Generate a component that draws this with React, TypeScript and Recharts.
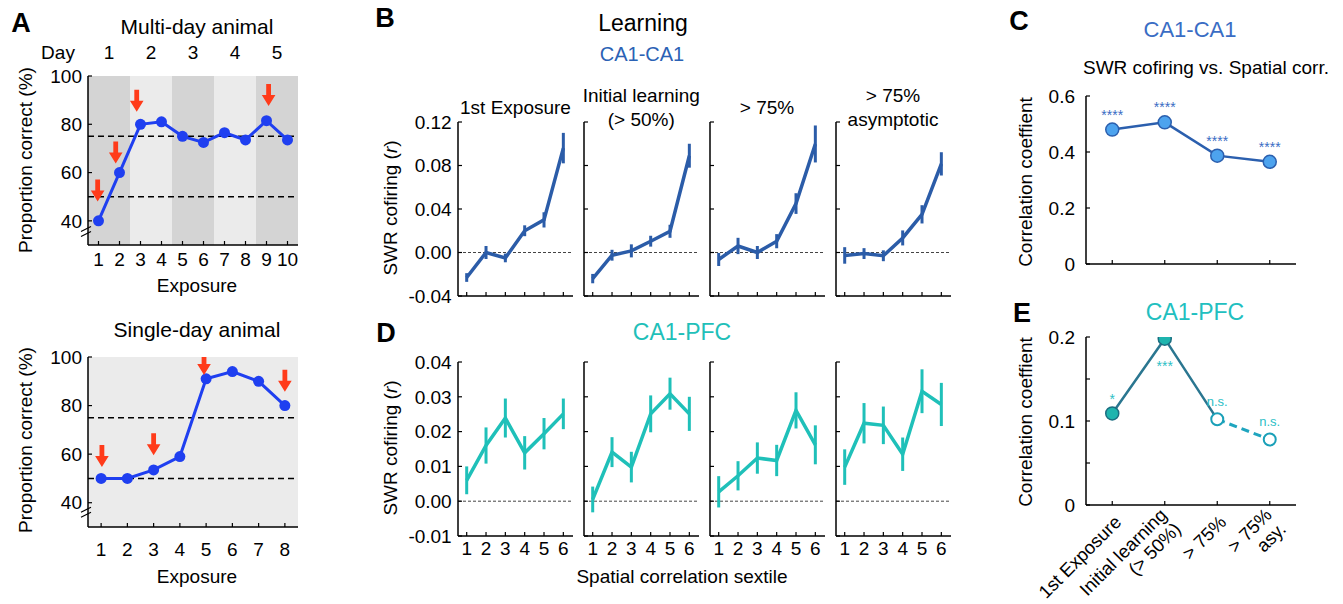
import React from 'react';
import {
  ComposedChart,
  Line,
  Scatter,
  XAxis,
  YAxis,
  ReferenceArea,
  ReferenceLine,
  ReferenceDot,
  ErrorBar,
} from 'recharts';

const FONT = "'Liberation Sans', Arial, Helvetica, sans-serif";

// ---- Panel A: behaviour ----
const multiExposure = [1, 2, 3, 4, 5, 6, 7, 8, 9, 10];
const multiCorrect = [40, 60, 80, 81, 75, 72.5, 76.5, 73.5, 81.5, 73.5];
const multiArrowX = [0.96, 1.82, 2.82, 9.1];
const multiArrowY = [48, 63.8, 85.2, 87.6];
const dayStart = [0.5, 2.5, 4.5, 6.5, 8.5];
const dayEnd = [2.5, 4.5, 6.5, 8.5, 10.5];
const dayLabels = ['1', '2', '3', '4', '5'];

const singleExposure = [1, 2, 3, 4, 5, 6, 7, 8];
const singleCorrect = [50, 50, 53.5, 59, 91, 94, 90, 80];
const singleArrowX = [1.03, 3, 4.92, 8];
const singleArrowY = [54.7, 59.5, 92.6, 85.7];

const criterion = [75, 50];
const pctTicks = [40, 60, 80, 100];

// ---- Panels B / D: cofiring by spatial correlation sextile ----
const sextiles = [1, 2, 3, 4, 5, 6];
const stageTitles = [['1st Exposure'], ['Initial learning', '(> 50%)'], ['> 75%'], ['> 75%', 'asymptotic']];

const ca1Mean = [
  [-0.023, 0.0, -0.005, 0.02, 0.03, 0.096],
  [-0.024, -0.0025, 0.0015, 0.0104, 0.0195, 0.089],
  [-0.0064, 0.006, 0.0, 0.0104, 0.045, 0.0998],
  [-0.0027, -0.001, -0.003, 0.0134, 0.0351, 0.0815],
];
const ca1Sem = [
  [0.004, 0.006, 0.004, 0.005, 0.007, 0.014],
  [0.0043, 0.005, 0.006, 0.005, 0.006, 0.011],
  [0.006, 0.0075, 0.006, 0.0065, 0.0095, 0.017],
  [0.0076, 0.005, 0.005, 0.0069, 0.0084, 0.0107],
];
const ca1Ticks = [-0.04, 0, 0.04, 0.08, 0.12];

const pfcMean = [
  [0.006, 0.016, 0.0239, 0.0139, 0.0194, 0.0251],
  [0.0005, 0.0141, 0.0098, 0.0251, 0.0309, 0.0251],
  [0.0027, 0.0073, 0.0124, 0.0117, 0.0261, 0.0162],
  [0.0098, 0.0224, 0.0218, 0.0135, 0.0316, 0.0278],
];
const pfcSem = [
  [0.004, 0.0052, 0.0056, 0.0048, 0.0045, 0.0044],
  [0.0037, 0.0043, 0.0044, 0.0053, 0.0046, 0.0049],
  [0.0045, 0.0042, 0.0045, 0.0045, 0.0052, 0.0056],
  [0.0051, 0.0058, 0.0054, 0.0048, 0.0063, 0.0062],
];
const pfcTicks = [-0.01, 0, 0.01, 0.02, 0.03, 0.04];

// ---- Panels C / E: correlation coefficient per stage ----
const stages = [1, 2, 3, 4];
const stageLabels = [['1st Exposure'], ['Initial learning', '(> 50%)'], ['> 75%'], ['> 75%', 'asy.']];
const ca1Corr = [0.48, 0.506, 0.387, 0.365];
const ca1Sig = ['****', '****', '****', '****'];
const ca1CorrTicks = [0, 0.2, 0.4, 0.6];

const pfcCorr = [0.109, 0.198, 0.102, 0.078];
const pfcSig = ['*', '***', 'n.s.', 'n.s.'];
const pfcSigBelow = [false, true, false, false];
const pfcFilled = [true, true, false, false];
const pfcCorrTicks = [0, 0.05, 0.1, 0.15, 0.2];
const pfcCorrTickLabels = ['0', '', '0.1', '', '0.2'];

const BLUE_A = '#1f3ff0';
const RED = '#ff3b1a';
const CA1_BLUE = '#2b5ca8';
const PFC_TEAL = '#1fc0b9';

const axisLine = { stroke: '#000', strokeWidth: 1.5 };
const tickLine = { stroke: '#000', strokeWidth: 1.2 };
const tickText = { fontSize: 19, fill: '#000', fontFamily: FONT };

const Arrow = (p: any) => {
  const { cx, cy } = p;
  const pts = [
    [-2.4, -22],
    [2.4, -22],
    [2.4, -11],
    [6.8, -11],
    [0, 0],
    [-6.8, -11],
    [-2.4, -11],
  ]
    .map(([dx, dy]) => `${cx + dx},${cy + dy}`)
    .join(' ');
  return <polygon points={pts} fill={RED} />;
};

const BreakMark = (p: any) => {
  const { cx, cy } = p;
  return (
    <g stroke="#000" strokeWidth={1.2}>
      <line x1={cx - 7} y1={cy + 1} x2={cx + 3} y2={cy - 4} />
      <line x1={cx - 7} y1={cy + 6} x2={cx + 3} y2={cy + 1} />
    </g>
  );
};

function ProportionPanel(props: {
  px: number;
  py: number;
  h: number;
  xs: number[];
  ys: number[];
  ax: number[];
  ay: number[];
  xMax: number;
  days: boolean;
  xMargin: number;
}) {
  const { px, py, h, xs, ys, ax, ay, xMax, days, xMargin } = props;
  const L = 60;
  const M = 12;
  const T = days ? M + 30 : M;
  const W = 210;
  const B = 40;
  const data = xs.map((x, i) => ({ x, y: ys[i] }));
  const arrows = ax.map((x, i) => ({ x, y: ay[i] }));
  return (
    <div style={{ position: 'absolute', left: px - L, top: py - T }}>
      <ComposedChart width={L + W + 10} height={T + h + B} margin={{ top: M, right: 10, left: 0, bottom: 0 }}>
        {days && (
          <XAxis
            xAxisId="day"
            orientation="top"
            type="number"
            dataKey="x"
            domain={[0.5, xMax]}
            ticks={dayStart.map((s, i) => (s + dayEnd[i]) / 2)}
            tickFormatter={(_v: number, i: number) => dayLabels[i]}
            axisLine={false}
            tickLine={false}
            tickSize={0}
            tickMargin={17}
            height={30}
            tick={tickText}
            allowDataOverflow
          />
        )}
        <XAxis
          type="number"
          dataKey="x"
          domain={[0.5, xMax]}
          ticks={xs}
          interval={0}
          height={B}
          axisLine={axisLine}
          tickLine={tickLine}
          tickSize={-4}
          tickMargin={xMargin}
          tick={tickText}
          allowDataOverflow
        />
        <YAxis
          type="number"
          dataKey="y"
          domain={[30, 100]}
          ticks={pctTicks}
          width={L}
          axisLine={axisLine}
          tickLine={tickLine}
          tickSize={-4}
          tickMargin={10}
          tick={tickText}
          allowDataOverflow
        />
        {days
          ? dayStart.map((s, i) => (
              <ReferenceArea
                key={i}
                x1={s}
                x2={dayEnd[i]}
                fill={i % 2 === 0 ? '#d4d4d4' : '#ebebeb'}
                fillOpacity={1}
                stroke="none"
              />
            ))
          : <ReferenceArea x1={0.5} x2={xMax} fill="#ebebeb" fillOpacity={1} stroke="none" />}
        {criterion.map((c) => (
          <ReferenceLine key={c} y={c} stroke="#000" strokeWidth={1.5} strokeDasharray="6 4" />
        ))}
        <Line
          data={data}
          dataKey="y"
          stroke={BLUE_A}
          strokeWidth={3}
          dot={{ r: 5.5, fill: BLUE_A, stroke: 'none' }}
          activeDot={false}
          isAnimationActive={false}
        />
        <Scatter data={arrows} dataKey="y" shape={Arrow} isAnimationActive={false} />
        <ReferenceDot x={0.5} y={days ? 36 : 36.5} ifOverflow="visible" shape={BreakMark} />
      </ComposedChart>
    </div>
  );
}

function SextilePanel(props: {
  px: number;
  py: number;
  mean: number[];
  sem: number[];
  color: string;
  domain: [number, number];
  ticks: number[];
  yLabels: boolean;
  xLabels: boolean;
}) {
  const { px, py, mean, sem, color, domain, ticks, yLabels, xLabels } = props;
  const L = 60;
  const T = 12;
  const W = 115;
  const H = 174;
  const B = 35;
  const data = sextiles.map((x, i) => ({ x, y: mean[i], e: sem[i] }));
  return (
    <div style={{ position: 'absolute', left: px - L, top: py - T }}>
      <ComposedChart width={L + W + 5} height={T + H + B} margin={{ top: T, right: 5, left: 0, bottom: 0 }}>
        <XAxis
          type="number"
          dataKey="x"
          domain={[0.55, 6.5]}
          ticks={sextiles}
          interval={0}
          height={B}
          axisLine={axisLine}
          tickLine={tickLine}
          tickSize={-4}
          tickMargin={9.3}
          tickFormatter={(v: number) => (xLabels ? String(v) : '')}
          tick={tickText}
          allowDataOverflow
        />
        <YAxis
          type="number"
          dataKey="y"
          domain={domain}
          ticks={ticks}
          interval={0}
          width={L}
          axisLine={axisLine}
          tickLine={tickLine}
          tickSize={-4}
          tickMargin={10.3}
          tickFormatter={(v: number) => (yLabels ? v.toFixed(2) : '')}
          tick={tickText}
          allowDataOverflow
        />
        <ReferenceLine y={0} stroke="#444" strokeWidth={1} strokeDasharray="3 2" />
        <Line data={data} dataKey="y" stroke={color} strokeWidth={3.5} dot={false} activeDot={false} isAnimationActive={false}>
          <ErrorBar dataKey="e" width={0} strokeWidth={3} stroke={color} direction="y" isAnimationActive={false} />
        </Line>
      </ComposedChart>
    </div>
  );
}

const Ca1Dot = (p: any) => {
  const { cx, cy, payload } = p;
  return (
    <g>
      <circle cx={cx} cy={cy} r={6.5} fill="#4da3ee" stroke="#2b5fae" strokeWidth={1.5} />
      <text x={cx} y={cy - 10} textAnchor="middle" fontSize={14} fill="#3a6cc4" fontFamily={FONT}>
        {payload.sig}
      </text>
    </g>
  );
};

const PfcDot = (p: any) => {
  const { cx, cy, payload } = p;
  const ns = payload.sig === 'n.s.';
  const ty = payload.below ? cy + 32 : ns ? cy - 13 : cy - 9;
  return (
    <g>
      {payload.filled ? (
        <circle cx={cx} cy={cy} r={6.5} fill="#1eb4ae" stroke="#1b6d80" strokeWidth={1.5} />
      ) : (
        <circle cx={cx} cy={cy} r={6} fill="#fff" stroke="#1aa0b8" strokeWidth={2} />
      )}
      <text x={cx} y={ty} textAnchor="middle" fontSize={ns ? 13 : 14} fill="#2cc0c6" fontFamily={FONT}>
        {payload.sig}
      </text>
    </g>
  );
};

const StageTick = (p: any) => {
  const { x, y, payload } = p;
  const lines = stageLabels[payload.value - 1] || [];
  const lh = 20;
  return (
    <g transform={`translate(${x + 6},${y + 14}) rotate(-45)`}>
      {lines.map((s, i) => (
        <text
          key={i}
          x={0}
          y={(i - (lines.length - 1) / 2) * lh + 6}
          textAnchor="end"
          fontSize={18.5}
          fill="#000"
          fontFamily={FONT}
        >
          {s}
        </text>
      ))}
    </g>
  );
};

function Ca1CorrPanel() {
  const px = 1086;
  const py = 96;
  const L = 70;
  const T = 12;
  const W = 210;
  const H = 168;
  const B = 10;
  const data = stages.map((x, i) => ({ x, y: ca1Corr[i], sig: ca1Sig[i] }));
  return (
    <div style={{ position: 'absolute', left: px - L, top: py - T }}>
      <ComposedChart width={L + W + 10} height={T + H + B} margin={{ top: T, right: 10, left: 0, bottom: 0 }}>
        <XAxis
          type="number"
          dataKey="x"
          domain={[0.5, 4.5]}
          ticks={stages}
          interval={0}
          height={B}
          axisLine={axisLine}
          tickLine={tickLine}
          tickSize={-4}
          tickFormatter={() => ''}
          allowDataOverflow
        />
        <YAxis
          type="number"
          dataKey="y"
          domain={[0, 0.6]}
          ticks={ca1CorrTicks}
          interval={0}
          width={L}
          axisLine={axisLine}
          tickLine={tickLine}
          tickSize={-4}
          tickMargin={15}
          tickFormatter={(v: number) => String(v)}
          tick={tickText}
          allowDataOverflow
        />
        <Line data={data} dataKey="y" stroke="#2b5fae" strokeWidth={2.5} dot={false} activeDot={false} isAnimationActive={false} />
        <Scatter data={data} dataKey="y" shape={Ca1Dot} isAnimationActive={false} />
      </ComposedChart>
    </div>
  );
}

function PfcCorrPanel() {
  const px = 1086;
  const py = 337;
  const L = 70;
  const T = 12;
  const W = 210;
  const H = 168;
  const B = 105;
  const data = stages.map((x, i) => ({
    x,
    y: pfcCorr[i],
    sig: pfcSig[i],
    below: pfcSigBelow[i],
    filled: pfcFilled[i],
  }));
  return (
    <div style={{ position: 'absolute', left: px - L, top: py - T }}>
      <ComposedChart width={L + W + 10} height={T + H + B} margin={{ top: T, right: 10, left: 0, bottom: 0 }}>
        <XAxis
          type="number"
          dataKey="x"
          domain={[0.5, 4.5]}
          ticks={stages}
          interval={0}
          height={B}
          axisLine={axisLine}
          tickLine={tickLine}
          tickSize={-4}
          tickMargin={4}
          tick={StageTick}
          allowDataOverflow
        />
        <YAxis
          type="number"
          dataKey="y"
          domain={[0, 0.2]}
          ticks={pfcCorrTicks}
          interval={0}
          width={L}
          axisLine={axisLine}
          tickLine={tickLine}
          tickSize={-4}
          tickMargin={15}
          tickFormatter={(_v: number, i: number) => pfcCorrTickLabels[i]}
          tick={tickText}
          allowDataOverflow
        />
        <Line data={data.slice(0, 3)} dataKey="y" stroke="#2a7690" strokeWidth={2.5} dot={false} activeDot={false} isAnimationActive={false} />
        <Line
          data={data.slice(2, 4)}
          dataKey="y"
          stroke="#1fa5bf"
          strokeWidth={3}
          strokeDasharray="8 5"
          dot={false}
          activeDot={false}
          isAnimationActive={false}
        />
        <Scatter data={data} dataKey="y" shape={PfcDot} isAnimationActive={false} />
      </ComposedChart>
    </div>
  );
}

const panelX = [458, 583.8, 709.5, 835.5];

export default function App() {
  const t = { fontFamily: FONT, fill: '#000' };
  return (
    <div
      style={{
        position: 'absolute',
        left: 0,
        top: 0,
        width: 1343,
        height: 604,
        background: '#fff',
        overflow: 'hidden',
        fontFamily: FONT,
      }}
    >
      <ProportionPanel
        px={88}
        py={76}
        h={169}
        xs={multiExposure}
        ys={multiCorrect}
        ax={multiArrowX}
        ay={multiArrowY}
        xMax={10.5}
        days
        xMargin={11.3}
      />
      <ProportionPanel
        px={88}
        py={357}
        h={170}
        xs={singleExposure}
        ys={singleCorrect}
        ax={singleArrowX}
        ay={singleArrowY}
        xMax={8.5}
        days={false}
        xMargin={19.3}
      />
      {panelX.map((x, i) => (
        <SextilePanel
          key={'b' + i}
          px={x}
          py={122}
          mean={ca1Mean[i]}
          sem={ca1Sem[i]}
          color={CA1_BLUE}
          domain={[-0.04, 0.12]}
          ticks={ca1Ticks}
          yLabels={i === 0}
          xLabels={false}
        />
      ))}
      {panelX.map((x, i) => (
        <SextilePanel
          key={'d' + i}
          px={x}
          py={362}
          mean={pfcMean[i]}
          sem={pfcSem[i]}
          color={PFC_TEAL}
          domain={[-0.01, 0.04]}
          ticks={pfcTicks}
          yLabels={i === 0}
          xLabels
        />
      ))}
      <Ca1CorrPanel />
      <PfcCorrPanel />

      <svg
        width={1343}
        height={604}
        style={{ position: 'absolute', left: 0, top: 0, pointerEvents: 'none' }}
      >
        <g {...t} fontWeight="bold" fontSize={27} dominantBaseline="central" textAnchor="middle">
          <text x={21} y={23}>A</text>
          <text x={385} y={18}>B</text>
          <text x={1019} y={21}>C</text>
          <text x={386} y={333}>D</text>
          <text x={1022} y={313}>E</text>
        </g>
        <g {...t} fontSize={19} dominantBaseline="central" textAnchor="middle">
          <text x={197} y={26} fontSize={21}>Multi-day animal</text>
          <text x={58} y={52}>Day</text>
          <text x={197} y={285}>Exposure</text>
          <text x={197} y={329} fontSize={21}>Single-day animal</text>
          <text x={197} y={576}>Exposure</text>
          <text x={25} y={160} transform="rotate(-90 25 160)">Proportion correct (%)</text>
          <text x={25} y={440} transform="rotate(-90 25 440)">Proportion correct (%)</text>

          <text x={643} y={23} fontSize={23}>Learning</text>
          <text x={642} y={54} fontSize={20} fill="#2b62b5">CA1-CA1</text>
          {stageTitles.map((lines, i) =>
            lines.map((s, j) => (
              <text key={i + '-' + j} x={panelX[i] + 57.5} y={107.5 + (j - (lines.length - 1) / 2) * 24}>
                {s}
              </text>
            )),
          )}
          <text x={390} y={208} transform="rotate(-90 390 208)">
            SWR cofiring (<tspan fontStyle="italic">r</tspan>)
          </text>
          <text x={682} y={332} fontSize={23} fill={PFC_TEAL}>CA1-PFC</text>
          <text x={390} y={448} transform="rotate(-90 390 448)">
            SWR cofiring (<tspan fontStyle="italic">r</tspan>)
          </text>
          <text x={682} y={576}>Spatial correlation sextile</text>

          <text x={1190} y={29} fontSize={22} fill="#3a6dc4">CA1-CA1</text>
          <text x={1206} y={67}>SWR cofiring vs. Spatial corr.</text>
          <text x={1025} y={182} transform="rotate(-90 1025 182)">Correlation coeffient</text>
          <text x={1195} y={312} fontSize={23} fill="#22bfbf">CA1-PFC</text>
          <text x={1025} y={422} transform="rotate(-90 1025 422)">Correlation coeffient</text>
        </g>
      </svg>
    </div>
  );
}
